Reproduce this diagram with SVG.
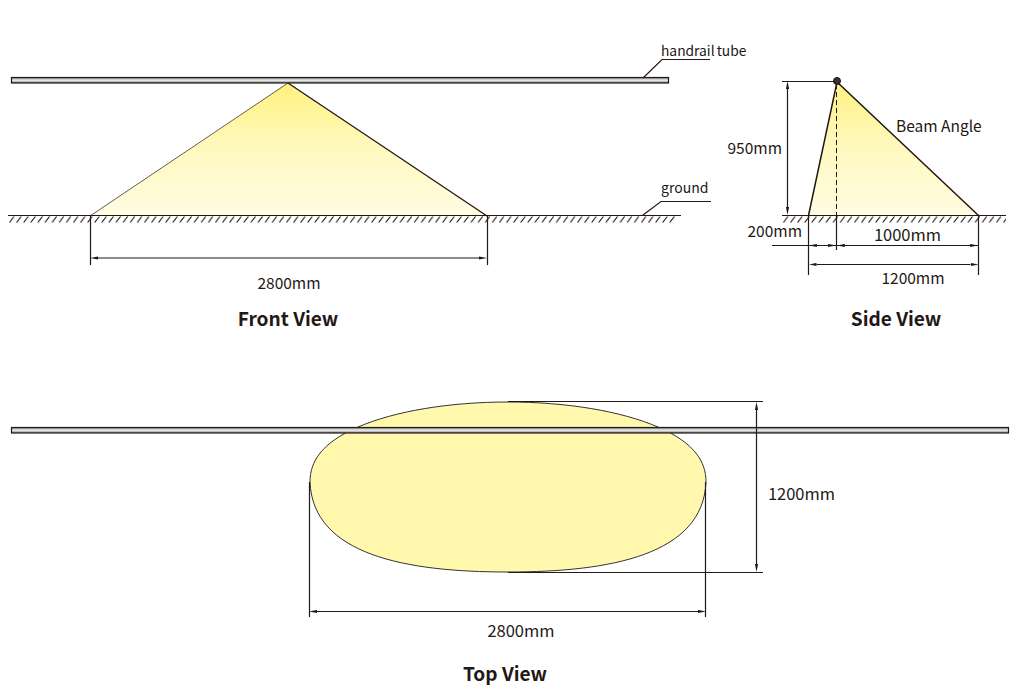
<svg xmlns="http://www.w3.org/2000/svg" width="1022" height="693" viewBox="0 0 1022 693">
<style>
text{font-family:"Noto Sans CJK SC","Noto Sans",sans-serif;fill:#231815;font-size:15.500px}
.t{font-weight:700;font-size:19.100px;text-anchor:middle}
.m{text-anchor:middle}
.s{font-size:14px}
.b{font-size:16.500px}
.l{fill:none;stroke:#231815;stroke-width:1.200}
.tube{fill:url(#tube);stroke:#231815;stroke-width:1.200}
</style>
<defs>
<linearGradient id="tube" x1="0" y1="0" x2="0" y2="1"><stop offset="0" stop-color="#777"/><stop offset=".5" stop-color="#f2f2f2"/><stop offset="1" stop-color="#777"/></linearGradient>
<linearGradient id="beamF" gradientUnits="userSpaceOnUse" x1="0" y1="83" x2="0" y2="216"><stop offset="0" stop-color="#fff17f"/><stop offset=".5" stop-color="#fff9c0"/><stop offset="1" stop-color="#fffce2"/></linearGradient>
<linearGradient id="beamS" gradientUnits="userSpaceOnUse" x1="0" y1="81" x2="0" y2="216"><stop offset="0" stop-color="#fff17f"/><stop offset=".5" stop-color="#fff9c0"/><stop offset="1" stop-color="#fffce2"/></linearGradient>
<marker id="a" viewBox="0 0 8 4" refX="0" refY="2" markerWidth="8" markerHeight="4" markerUnits="userSpaceOnUse" orient="auto-start-reverse"><path d="M8 2L0 .4V3.600Z" fill="#231815"/></marker>
<pattern id="hp" width="7.100" height="7" patternUnits="userSpaceOnUse" x="9" y="216"><path d="M0.500 6.500L5 0.500" fill="none" stroke="#231815" stroke-width="1.200"/></pattern>
</defs>

<g id="front-view">
<polygon points="288,83 90,216 487,216" fill="url(#beamF)"/>
<path d="M90 216L288 83" fill="none" stroke="#231815" stroke-width=".7"/>
<path d="M288 83L487 216" fill="none" stroke="#231815" stroke-width="1.300"/>
<rect x="11.500" y="77.500" width="657" height="5.500" class="tube"/>
<rect x="9" y="216" width="666" height="7" fill="url(#hp)"/>
<path d="M8 215.500H681" class="l"/>
<text x="661" y="56" font-size="13.800" style="font-size:13.800px" word-spacing="-1">handrail tube</text>
<text x="661" y="193" class="s">ground</text>
<text x="289" y="289" class="m">2800mm</text>
<text x="288" y="326" class="t">Front View</text>
</g>

<g id="side-view">
<polygon points="837,82 808,216 978,216" fill="url(#beamS)"/>
<rect x="782" y="216" width="224" height="7" fill="url(#hp)"/>
<path d="M782 215.500H1006" class="l"/>
<path d="M808.500 215.500L837 82L978.500 215.500" fill="none" stroke="#231815" stroke-width="1.500"/>
<circle cx="837" cy="81" r="3.500" fill="#333" stroke="#111" stroke-width="1"/>
<text x="896" y="132">Beam Angle</text>
<text x="782" y="154" text-anchor="end">950mm</text>
<text x="802" y="237" text-anchor="end">200mm</text>
<text x="907.500" y="241" class="m b">1000mm</text>
<text x="913" y="284" class="m">1200mm</text>
<text x="896" y="326" class="t">Side View</text>
</g>

<g id="top-view">
<path id="top-beam" d="M310 482C310 462 321 443 358 427C395 411 450 402 508 402C566 402 621 411 658 427C695 443 706 462 706 482C703 555 610 572 508 572C406 572 313 555 310 482Z" fill="#fff8ad" stroke="#333" stroke-width="1"/>
<rect x="11.500" y="427.500" width="997" height="5.500" class="tube"/>
<text x="801.500" y="500" class="m b">1200mm</text>
<text x="521" y="637" class="m b">2800mm</text>
<text x="505" y="681" class="t">Top View</text>
</g>

<g id="connectors">
<path d="M710 59.500H662L643 78" class="l"/>
<path d="M711 201.500H661L643 215" class="l"/>
<path d="M90.500 216V265M487.500 216V265" class="l"/>
<path d="M98 258H479" class="l" marker-start="url(#a)" marker-end="url(#a)"/>
<path d="M782 81.500H835" class="l"/>
<path d="M787.500 89V207" class="l" marker-start="url(#a)" marker-end="url(#a)"/>
<path d="M836.500 84V216" fill="none" stroke="#231815" stroke-width="1" stroke-dasharray="5 3"/>
<path d="M836.500 216V250M808.500 216V275M978.500 216V275" class="l"/>
<path d="M772 245.500H978" class="l"/>
<path d="M817 245.500h-.1" class="l" marker-end="url(#a)"/>
<path d="M828 245.500h.1" class="l" marker-end="url(#a)"/>
<path d="M845 245.500h-.1" class="l" marker-end="url(#a)"/>
<path d="M970 245.500h.1" class="l" marker-end="url(#a)"/>
<path d="M816.500 264.500H970.500" class="l" marker-start="url(#a)" marker-end="url(#a)"/>
<path d="M508 401.500H763M508 572.500H763" class="l"/>
<path d="M756.500 410V564" class="l" marker-start="url(#a)" marker-end="url(#a)"/>
<path d="M309.500 482V617M705.500 482V617" class="l"/>
<path d="M317 611.500H698" class="l" marker-start="url(#a)" marker-end="url(#a)"/>
</g>
</svg>
